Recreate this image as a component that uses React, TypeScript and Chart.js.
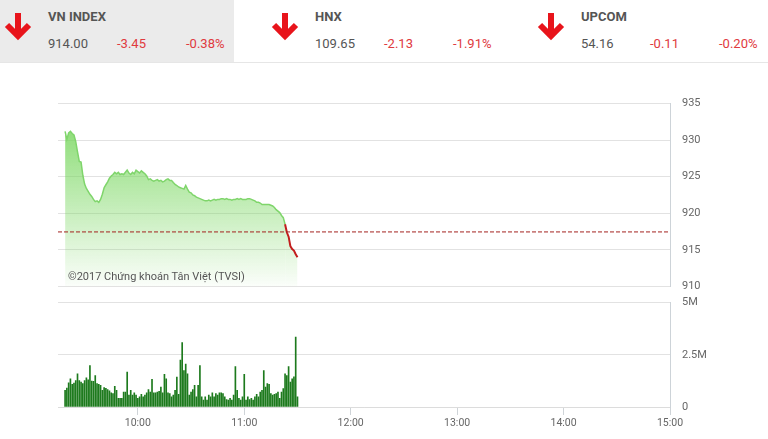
import React, { useEffect, useRef } from 'react';
import { Chart, registerables } from 'chart.js';

Chart.register(...registerables);

const FONT = 'Roboto, "Open Sans", sans-serif';

// Header data
const indexNames = ['VN INDEX', 'HNX', 'UPCOM'];
const indexValues = ['914.00', '109.65', '54.16'];
const indexChanges = ['-3.45', '-2.13', '-0.11'];
const indexPercents = ['-0.38%', '-1.91%', '-0.20%'];

// Axis data
const sessionStart = '9:15';
const sessionEnd = '15:00';
const dataStart = '9:19';
const timeTicks = ['10:00', '11:00', '12:00', '13:00', '14:00', '15:00'];
const priceMin = 910;
const priceMax = 935;
const priceStep = 5;
const volumeMax = 5; // millions
const volumeStep = 2.5;
const referenceValue = 917.45;
const copyrightText = '©2017 Chứng khoán Tân Việt (TVSI)';

// VN-Index, one value per minute from 9:19
const priceValues = [
  931.2, 930.1, 931.0, 931.2, 930.9, 930.7, 929.8, 928.4, 927.1, 927.0,
  925.2, 924.0, 923.4, 923.0, 922.6, 922.3, 921.9, 921.6, 921.7, 921.5,
  921.9, 922.6, 923.5, 923.9, 924.3, 924.8, 925.1, 925.3, 925.6, 925.4,
  925.6, 925.3, 925.4, 925.3, 925.6, 925.9, 925.5, 925.3, 925.6, 925.4,
  925.9, 925.7, 925.5, 925.8, 925.6, 925.4, 925.1, 924.6, 924.7, 924.5,
  924.4, 924.5, 924.6, 924.4, 924.5, 924.3, 924.4, 924.6, 924.7, 924.5,
  924.5, 924.2, 923.95, 923.8, 923.6, 923.5, 923.4, 923.3, 923.8, 923.3,
  922.9, 922.8, 922.5, 922.4, 922.2, 922.1, 922.0, 921.9, 921.8, 921.7,
  921.7, 921.8, 921.7, 921.8, 921.9, 921.8, 921.9, 921.9, 922.0, 922.0,
  921.9, 922.0, 921.9, 921.9, 921.8, 921.9, 921.9, 922.0, 921.9, 922.0,
  921.9, 921.9, 921.9, 922.0, 922.0, 921.9, 921.8, 921.7, 921.5, 921.5,
  921.4, 921.2, 921.2, 921.2, 921.2, 921.2, 921.1, 921.0, 920.8, 920.5,
  920.3, 920.1, 919.7, 919.4, 918.5, 917.4, 916.8, 915.5, 915.1, 914.9,
  914.4, 914.0,
];

// Volume (millions of shares), one bar per minute from 9:19
const volumeValues = [
  0.80, 0.91, 1.16, 1.35, 1.08, 1.15, 1.27, 1.59, 1.27, 1.19,
  1.12, 1.27, 1.40, 1.30, 1.98, 1.24, 1.23, 1.51, 1.12, 1.08,
  1.04, 0.80, 0.93, 0.90, 0.83, 0.77, 0.68, 0.64, 0.99, 0.80,
  0.42, 0.42,
  0.41, 0.72, 0.72, 1.67, 0.57, 0.80, 0.57, 0.68, 0.57, 0.41,
  0.49, 0.61, 0.49, 0.57, 0.68, 0.83, 0.71, 1.32, 0.68, 0.68,
  0.71, 0.75, 0.96, 0.68, 1.56, 1.35, 0.68, 0.64, 0.49, 0.57,
  0.80, 1.43, 0.61, 2.25,
  3.08, 1.75, 2.06, 1.59, 0.57, 0.72, 0.83, 1.04, 0.49, 1.04,
  1.98, 0.49, 0.33, 0.49, 0.33, 0.57, 0.49, 0.68, 0.49, 0.64,
  0.57, 0.68, 0.68, 0.64, 0.49, 0.36, 0.33, 0.41, 0.33, 0.57,
  1.93, 0.80, 0.41, 0.33,
  0.49, 1.56, 0.33, 0.49, 0.36, 0.41, 0.33, 0.49, 0.61, 0.49,
  0.72, 0.80, 1.75, 0.96, 1.12, 1.08, 0.64, 0.57, 0.61, 0.64,
  0.72, 0.41, 0.72, 0.88, 1.59, 1.51, 1.93, 1.19, 1.35, 1.44,
  3.35, 0.49,
];

const toMin = (s: string) => {
  const [h, m] = s.split(':').map(Number);
  return h * 60 + m;
};
const fmtTime = (v: number) => `${Math.floor(v / 60)}:${String(Math.round(v) % 60).padStart(2, '0')}`;

function DownArrow({ x }: { x: number }) {
  return (
    <svg style={{ position: 'absolute', left: x - 15, top: 10, width: 30, height: 32 }} viewBox="0 0 30 32">
      <path d="M15 3 L15 26" stroke="#e8141b" strokeWidth={6} fill="none" />
      <path d="M4 15 L15 26 L26 15" stroke="#e8141b" strokeWidth={6} fill="none" strokeLinejoin="miter" />
    </svg>
  );
}

export default function App() {
  const priceRef = useRef<HTMLCanvasElement>(null);
  const volRef = useRef<HTMLCanvasElement>(null);

  useEffect(() => {
    const start = toMin(dataStart);
    const xMin = toMin(sessionStart);
    const xMax = toMin(sessionEnd);
    const pricePts = priceValues.map((y, i) => ({ x: start + i, y }));
    const volPts = volumeValues.map((y, i) => ({ x: start + i, y }));
    const green = '#7fd56b';
    const red = '#c21d1d';

    const pc = new Chart(priceRef.current!, {
      type: 'line',
      data: {
        datasets: [
          {
            data: pricePts,
            borderColor: green,
            borderWidth: 1.5,
            pointRadius: 0,
            tension: 0,
            fill: 'start',
            backgroundColor: (ctx: any) => {
              const area = ctx.chart.chartArea;
              if (!area) return 'rgba(120,215,95,0.4)';
              const g = ctx.chart.ctx.createLinearGradient(0, area.top, 0, area.bottom);
              g.addColorStop(0, 'rgba(118,214,92,0.95)');
              g.addColorStop(1, 'rgba(118,214,92,0.03)');
              return g;
            },
            segment: {
              borderColor: (ctx: any) => (ctx.p1.parsed.y < referenceValue ? red : green),
              borderWidth: (ctx: any) => (ctx.p1.parsed.y < referenceValue ? 2 : 1.5),
            },
            order: 2,
          } as any,
          {
            data: [
              { x: xMin, y: referenceValue },
              { x: xMax, y: referenceValue },
            ],
            borderColor: '#a3221f',
            borderWidth: 1,
            borderDash: [4, 2],
            pointRadius: 0,
            fill: false,
            order: 1,
          },
        ],
      },
      options: {
        animation: false,
        responsive: false,
        layout: { padding: { left: 58, top: 6, right: 0, bottom: 8 } },
        plugins: { legend: { display: false }, tooltip: { enabled: false } },
        scales: {
          x: { type: 'linear', min: xMin, max: xMax, display: false },
          y: {
            position: 'right',
            min: priceMin,
            max: priceMax,
            ticks: { stepSize: priceStep, color: '#666', font: { family: FONT, size: 11 }, padding: 12 },
            grid: { color: '#e2e2e2', drawTicks: false },
            border: { display: true, color: '#cdd3d8' },
            afterFit: (s: any) => {
              s.width = 98;
            },
          } as any,
        },
      },
    });

    const vc = new Chart(volRef.current!, {
      type: 'bar',
      data: {
        datasets: [
          {
            data: volPts,
            backgroundColor: '#1d7a1d',
            barThickness: 1,
          } as any,
        ],
      },
      options: {
        animation: false,
        responsive: false,
        layout: { padding: { left: 58, top: 5, right: 0, bottom: 0 } },
        plugins: { legend: { display: false }, tooltip: { enabled: false } },
        scales: {
          x: {
            type: 'linear',
            min: xMin,
            max: xMax,
            offset: false,
            afterBuildTicks: (axis: any) => {
              axis.ticks = timeTicks.map((t) => ({ value: toMin(t) }));
            },
            ticks: {
              color: '#666',
              font: { family: FONT, size: 10.5 },
              padding: 2,
              maxRotation: 0,
              autoSkip: false,
              callback: (v: any) => fmtTime(Number(v)),
            },
            grid: { drawOnChartArea: false, drawTicks: true, tickLength: 8, color: '#cfd4d8', offset: false },
            border: { display: true, color: '#dcdcdc' },
            afterFit: (s: any) => {
              s.height = 30;
            },
          } as any,
          y: {
            position: 'right',
            min: 0,
            max: volumeMax,
            ticks: {
              stepSize: volumeStep,
              color: '#666',
              font: { family: FONT, size: 11 },
              padding: 12,
              callback: (v: any) => (Number(v) === 0 ? '0' : `${v}M`),
            },
            grid: { color: '#e2e2e2', drawTicks: false },
            border: { display: true, color: '#cdd3d8' },
            afterFit: (s: any) => {
              s.width = 98;
            },
          } as any,
        },
      },
    });

    return () => {
      pc.destroy();
      vc.destroy();
    };
  }, []);

  const panelX = [0, 267, 533];

  return (
    <div
      style={{
        position: 'absolute',
        left: 0,
        top: 0,
        width: 768,
        height: 439,
        background: '#fff',
        overflow: 'hidden',
        fontFamily: FONT,
      }}
    >
      <div style={{ position: 'absolute', left: 0, top: 0, width: 234, height: 62, background: '#ebebeb' }} />
      <div style={{ position: 'absolute', left: 0, top: 62, width: 768, height: 1, background: '#e6e6e6' }} />
      {indexNames.map((name, i) => (
        <React.Fragment key={name}>
          <DownArrow x={panelX[i] + 17.5} />
          <div style={{ position: 'absolute', left: panelX[i] + 48, top: 9, fontSize: 13, fontWeight: 700, color: '#555', whiteSpace: 'nowrap' }}>
            {name}
          </div>
          <div style={{ position: 'absolute', left: panelX[i] + 48, top: 36, fontSize: 13, color: '#555', whiteSpace: 'nowrap' }}>
            {indexValues[i]}
          </div>
          <div style={{ position: 'absolute', left: panelX[i] + 117, top: 36, fontSize: 13, color: '#e03a3e', whiteSpace: 'nowrap' }}>
            {indexChanges[i]}
          </div>
          <div style={{ position: 'absolute', left: panelX[i] + 186, top: 36, fontSize: 13, color: '#e03a3e', whiteSpace: 'nowrap' }}>
            {indexPercents[i]}
          </div>
        </React.Fragment>
      ))}
      <canvas ref={priceRef} width={768} height={220} style={{ position: 'absolute', left: 0, top: 85, width: 768, height: 220 }} />
      <canvas ref={volRef} width={768} height={153} style={{ position: 'absolute', left: 0, top: 284, width: 768, height: 153 }} />
      <div style={{ position: 'absolute', left: 68, top: 270, fontSize: 11, color: '#555', whiteSpace: 'nowrap' }}>
        {copyrightText}
      </div>
    </div>
  );
}
